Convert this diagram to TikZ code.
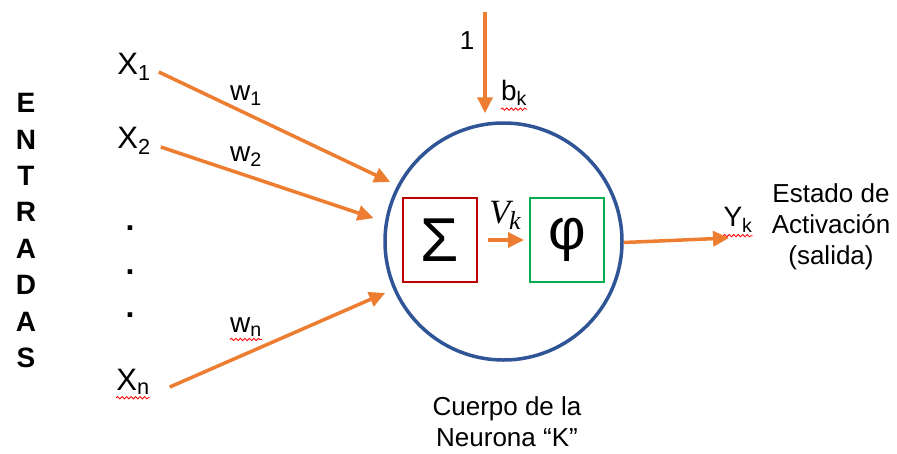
\documentclass[tikz,border=0pt]{standalone}
\usepackage{fontspec}
\setmainfont{Liberation Sans}
\newfontfamily\vkfont{Liberation Serif}
\usetikzlibrary{arrows.meta,decorations.pathmorphing}
\definecolor{orng}{HTML}{ED7D31}
\definecolor{nblue}{HTML}{2F5597}
\definecolor{sred}{HTML}{C00000}
\definecolor{pgreen}{HTML}{00B050}
\begin{document}
\begin{tikzpicture}[x=1pt,y=-1pt,
  sig/.style={draw=orng, line width=3.5pt, -{Triangle[length=16pt,width=15pt,fill=orng]}},
  lbl/.style={inner sep=0pt, font=\fontsize{31}{34}\selectfont},
  wlbl/.style={inner sep=0pt, font=\fontsize{28}{30}\selectfont},
  txt/.style={inner sep=0pt, align=center, font=\fontsize{26}{31}\selectfont},
  letter/.style={inner sep=0pt, font=\fontsize{28}{30}\selectfont\bfseries},
  boxnode/.style={line width=2pt, minimum width=74pt, minimum height=84pt, inner sep=0pt},
  squig/.style={draw=red, line width=0.8pt, decorate, decoration={snake, amplitude=1.2pt, segment length=4.5pt}}
]
\useasboundingbox (0,0) rectangle (897,453);

% ENTRADAS
\foreach \l [count=\i from 0] in {E,N,T,R,A,D,A,S}{
  \node[letter] (e\i) at (26,{103+36.4*\i}) {\l};
}

% inputs
\node[lbl] (x1) at (134,67) {X\textsubscript{1}};
\node[lbl] (x2) at (134,141) {X\textsubscript{2}};
\node[lbl] (xn) at (133,382) {X\textsubscript{n}};
\node[inner sep=0pt, font=\fontsize{32}{34}\selectfont\bfseries] (d1) at (130,228) {.};
\node[inner sep=0pt, font=\fontsize{32}{34}\selectfont\bfseries] (d2) at (130,272) {.};
\node[inner sep=0pt, font=\fontsize{32}{34}\selectfont\bfseries] (d3) at (130,315) {.};

% neuron
\node[circle, draw=nblue, line width=3.5pt, minimum size=237pt, inner sep=0pt] (neuron) at (503.5,241.5) {};
\node[boxnode, draw=sred, font=\fontsize{62}{62}\selectfont] (sum) at (440,240) {Σ};
\node[boxnode, draw=pgreen, font=\fontsize{58}{60}\selectfont] (phi) at (567,240) {φ};
\draw[sig] ([xshift=10pt]sum.east) -- ([xshift=-5pt]phi.west);
\node[inner sep=0pt, font=\fontsize{34}{36}\selectfont\vkfont\itshape] (vk) at (505,215) {V\kern-1pt\raisebox{-0.18em}{\fontsize{26}{28}\selectfont k}};

% weights
\node[wlbl] (w1) at (246,96) {w\textsubscript{1}};
\node[wlbl] (w2) at (246,157) {w\textsubscript{2}};
\node[wlbl] (wn) at (246,327) {w\textsubscript{n}};

% input arrows
\coordinate (t1) at ([shift={(152.3:128pt)}]neuron.center);
\coordinate (t2) at ([shift={(169.8:132pt)}]neuron.center);
\coordinate (tn) at ([shift={(203.5:129pt)}]neuron.center);
\draw[sig] ([xshift=8pt,yshift=-5pt]x1.east) -- (t1);
\draw[sig] ([xshift=10pt,yshift=-6pt]x2.east) -- (t2);
\draw[sig] ([xshift=20pt,yshift=-5pt]xn.east) -- (tn);

% bias
\coordinate (bstart) at (485,12);
\node[inner sep=0pt, font=\fontsize{26}{28}\selectfont] (one) at (467,41) {1};
\node[wlbl] (bk) at (514,93) {b\textsubscript{k}};
\draw[sig] (bstart) -- ([shift={(-18.5pt,8pt)}]neuron.north);

% output
\coordinate (yend) at (729,238);
\draw[sig] ([yshift=-1pt]neuron.east) -- (yend);
\node[wlbl] (yk) at (738,220) {Y\textsubscript{k}};
\node[txt] (estado) at (831,227) {Estado de\\Activación\\(salida)};
\node[txt] (cuerpo) at (507,422) {Cuerpo de la\\Neurona “K”};

% spell-check underlines
\draw[squig] ([yshift=-3pt]bk.south west) -- ([yshift=-3pt]bk.south east);
\draw[squig] ([yshift=-3pt]yk.south west) -- ([yshift=-3pt]yk.south east);
\draw[squig] ([yshift=-3pt]wn.south west) -- ([yshift=-3pt]wn.south east);
\draw[squig] ([yshift=-3pt]xn.south west) -- ([yshift=-3pt]xn.south east);
\end{tikzpicture}
\end{document}
